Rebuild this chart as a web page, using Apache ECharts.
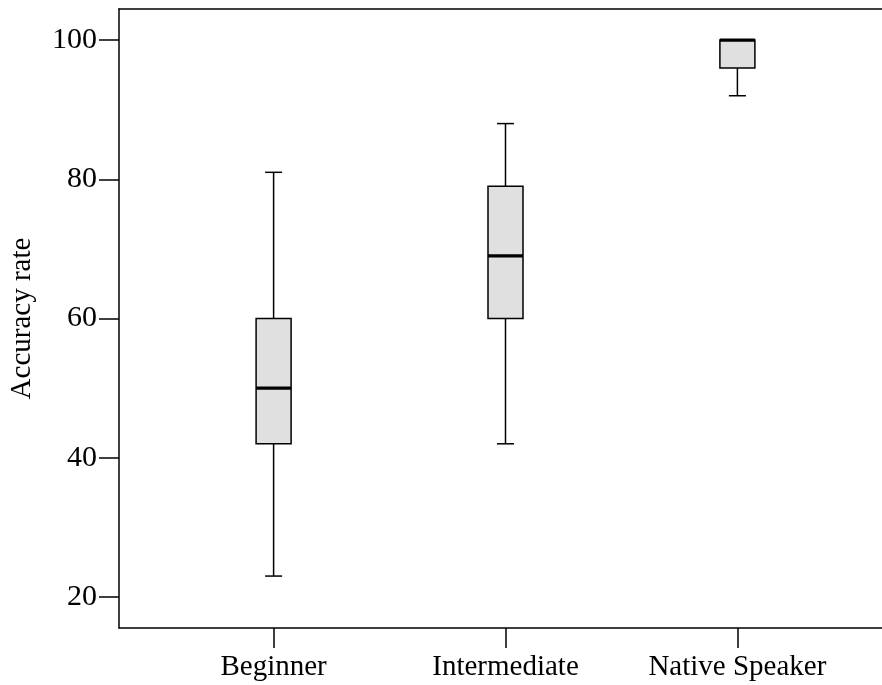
<!DOCTYPE html>
<html>
<head>
<meta charset="utf-8">
<script src="https://cdn.jsdelivr.net/npm/echarts@6/dist/echarts.min.js"></script>
<style>
html,body{margin:0;padding:0;background:#fff;overflow:hidden;width:882px;height:685px;}
#chart{width:900px;height:685px;}
</style>
</head>
<body>
<div id="chart"></div>
<script>
const categories = ['Beginner', 'Intermediate', 'Native Speaker'];
const positions = [1, 2, 3];
const minVals = [23, 42, 92];
const q1Vals = [42, 60, 96];
const medianVals = [50, 69, 100];
const q3Vals = [60, 79, 100];
const maxVals = [81, 88, 100];
const yTicks = [20, 40, 60, 80, 100];

const FONT = "'Liberation Serif', 'Times New Roman', serif";
const data = positions.map((p, i) => [p, minVals[i], q1Vals[i], medianVals[i], q3Vals[i], maxVals[i]]);

const chart = echarts.init(document.getElementById('chart'), null, {renderer: 'canvas'});

function renderItem(params, api) {
  const x = api.value(0);
  const pMin = api.coord([x, api.value(1)]);
  const pQ1 = api.coord([x, api.value(2)]);
  const pMed = api.coord([x, api.value(3)]);
  const pQ3 = api.coord([x, api.value(4)]);
  const pMax = api.coord([x, api.value(5)]);
  const cx = pMin[0];
  const bw = 35, cw = 17;
  const ls = {stroke: '#000', lineWidth: 1.5};
  const children = [];
  if (pMin[1] !== pQ1[1]) {
    children.push({type: 'line', shape: {x1: cx, y1: pMin[1], x2: cx, y2: pQ1[1]}, style: ls});
    children.push({type: 'line', shape: {x1: cx - cw / 2, y1: pMin[1], x2: cx + cw / 2, y2: pMin[1]}, style: ls});
  }
  if (pMax[1] !== pQ3[1]) {
    children.push({type: 'line', shape: {x1: cx, y1: pMax[1], x2: cx, y2: pQ3[1]}, style: ls});
    children.push({type: 'line', shape: {x1: cx - cw / 2, y1: pMax[1], x2: cx + cw / 2, y2: pMax[1]}, style: ls});
  }
  children.push({type: 'rect', shape: {x: cx - bw / 2, y: pQ3[1], width: bw, height: pQ1[1] - pQ3[1]},
    style: {fill: '#e0e0e0', stroke: '#000', lineWidth: 1.5}});
  children.push({type: 'line', shape: {x1: cx - bw / 2, y1: pMed[1], x2: cx + bw / 2, y2: pMed[1]},
    style: {stroke: '#000', lineWidth: 3.2}});
  return {type: 'group', children: children};
}

const xMin = 1 / 3, xMax = 11 / 3;

chart.setOption({
  animation: false,
  backgroundColor: '#fff',
  grid: {left: 119, top: 9, right: 8, bottom: 57, containLabel: false, outerBoundsMode: 'none', show: false},
  xAxis: [{
    type: 'value', min: xMin, max: xMax,
    axisLine: {show: true, onZero: false, lineStyle: {color: '#000', width: 1.5}},
    axisTick: {show: true, customValues: positions, length: 20, lineStyle: {color: '#000', width: 1.5}},
    axisLabel: {show: true, customValues: positions, margin: 25, color: '#000', fontFamily: FONT, fontSize: 29,
      formatter: v => categories[Math.round(v) - 1]},
    splitLine: {show: false}
  }, {
    type: 'value', position: 'top', min: xMin, max: xMax,
    axisLine: {show: true, onZero: false, lineStyle: {color: '#000', width: 1.5}},
    axisTick: {show: false}, axisLabel: {show: false}, splitLine: {show: false}
  }],
  yAxis: {
    type: 'value', min: 15.54, max: 104.46,
    name: 'Accuracy rate', nameLocation: 'middle', nameGap: 82,
    nameTextStyle: {color: '#000', fontFamily: FONT, fontSize: 29},
    axisLine: {show: true, onZero: false, lineStyle: {color: '#000', width: 1.5}},
    axisTick: {show: true, customValues: yTicks, length: 20, lineStyle: {color: '#000', width: 1.5}},
    axisLabel: {show: true, customValues: yTicks, margin: 22, color: '#000', fontFamily: FONT, fontSize: 30},
    splitLine: {show: false}
  },
  series: [{
    type: 'custom',
    renderItem: renderItem,
    data: data,
    encode: {x: 0, y: [1, 2, 3, 4, 5]},
    clip: false
  }]
});
</script>
</body>
</html>
